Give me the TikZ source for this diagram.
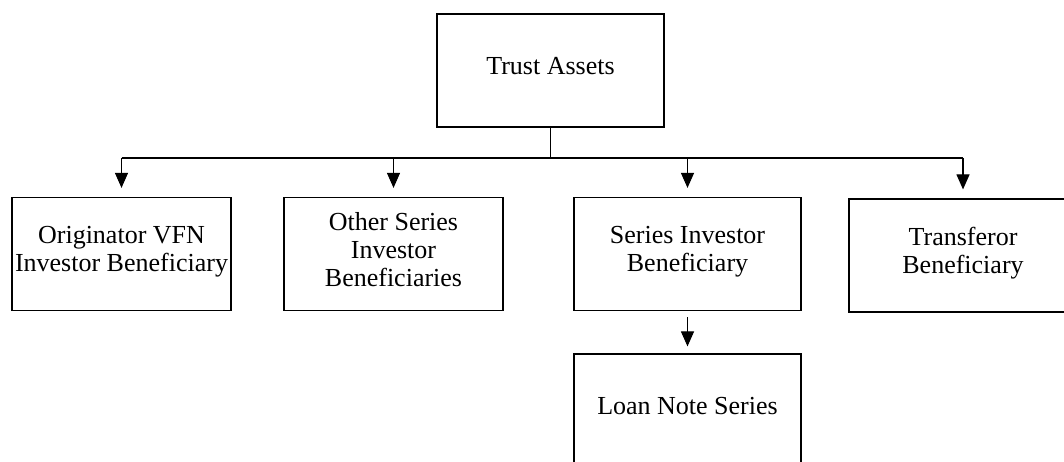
\documentclass[tikz,border=0pt]{standalone}
\usepackage{fontspec}
\setmainfont{Liberation Serif}
\usetikzlibrary{arrows.meta}

\begin{document}
\begin{tikzpicture}[x=1pt,y=-1pt,
        box/.style={draw,line width=1.2pt,minimum height=113pt,inner sep=2pt,align=center,
            text depth=10pt,font=\fontsize{26}{28}\selectfont},
        line/.style={line width=1.1pt},
        link/.style={line width=1.1pt,shorten >=9pt,-{Triangle[length=15pt,width=13pt]}}]
        \useasboundingbox (0,0) rectangle (1064,462);

        % 顶层方框
        \node[box,minimum width=227pt] (trust) at (550.5,70.5) {Trust Assets};

        % 受益人方框
        \node[box,minimum width=219pt] (orig) at (121.5,254) {Originator VFN\\Investor Beneficiary};
        \node[box,minimum width=219pt] (other) at (393.5,254) {Other Series\\Investor\\Beneficiaries};
        \node[box,minimum width=227pt] (series) at (687.5,254) {Series Investor\\Beneficiary};
        \node[box,minimum width=228pt] (transf) at (963,255.5) {Transferor\\Beneficiary};
        \node[box,minimum width=227pt] (loan) at (687.5,410.5) {Loan Note Series};

        % 连线
        \coordinate (bus) at (0,158);
        \draw[line] (trust.south) -- (trust.south |- bus);
        \draw[line] (bus -| orig) -- (bus -| transf);
        \foreach \n in {orig,other,series,transf}
            \draw[link] (bus -| \n) -- (\n.north);
        \draw[link,shorten <=6pt,shorten >=7pt] (series.south) -- (loan.north);
    \end{tikzpicture}
\end{document}
